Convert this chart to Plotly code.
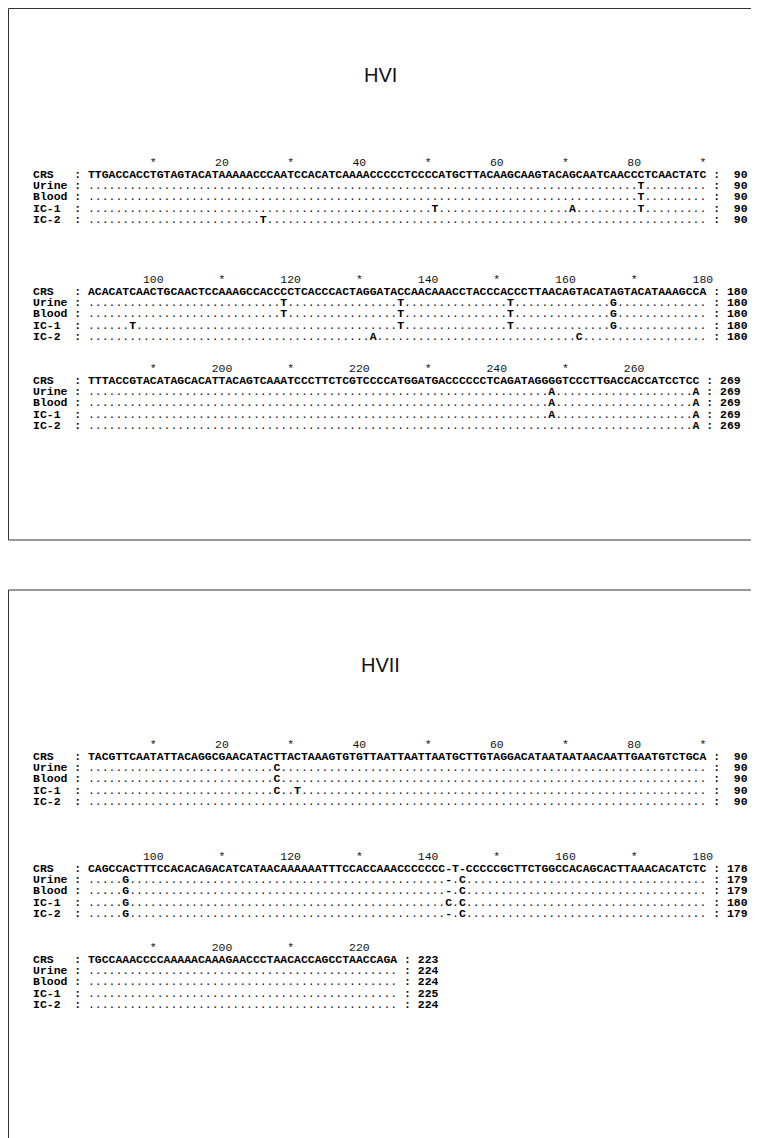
import plotly.graph_objects as go

# ---------------- data ----------------
SAMPLES = ["CRS", "Urine", "Blood", "IC-1", "IC-2"]

HVI_CRS_ROWS = [
    ("TTGACCACCT" "GTAGTACATA" "AAAACCCAAT" "CCACATCAAA" "ACCCCCTCCC"
     "CATGCTTACA" "AGCAAGTACA" "GCAATCAACC" "CTCAACTATC"),
    ("ACACATCAAC" "TGCAACTCCA" "AAGCCACCCC" "TCACCCACTA" "GGATACCAAC"
     "AAACCTACCC" "ACCCTTAACA" "GTACATAGTA" "CATAAAGCCA"),
    ("TTTACCGTAC" "ATAGCACATT" "ACAGTCAAAT" "CCCTTCTCGT" "CCCCATGGAT"
     "GACCCCCCTC" "AGATAGGGGT" "CCCTTGACCA" "CCATCCTCC"),
]
# differences from CRS, keyed by alignment column
HVI_URINE = {81: "T", 119: "T", 136: "T", 152: "T", 167: "G", 248: "A", 269: "A"}
HVI_BLOOD = {81: "T", 119: "T", 136: "T", 152: "T", 167: "G", 248: "A", 269: "A"}
HVI_IC1 = {51: "T", 71: "A", 81: "T", 97: "T", 136: "T", 152: "T", 167: "G", 248: "A", 269: "A"}
HVI_IC2 = {26: "T", 132: "A", 162: "C", 269: "A"}
HVI_ENDS = {"CRS": [90, 180, 269], "Urine": [90, 180, 269], "Blood": [90, 180, 269],
            "IC-1": [90, 180, 269], "IC-2": [90, 180, 269]}

HVII_CRS_ROWS = [
    ("TACGTTCAAT" "ATTACAGGCG" "AACATACTTA" "CTAAAGTGTG" "TTAATTAATT"
     "AATGCTTGTA" "GGACATAATA" "ATAACAATTG" "AATGTCTGCA"),
    ("CAGCCACTTT" "CCACACAGAC" "ATCATAACAA" "AAAATTTCCA" "CCAAACCCCC"
     "CC-T-CCCCC" "GCTTCTGGCC" "ACAGCACTTA" "AACACATCTC"),
    ("TGCCAAACCC" "CAAAAACAAA" "GAACCCTAAC" "ACCAGCCTAA" "CCAGA"),
]
HVII_URINE = {28: "C", 96: "G", 145: "C"}
HVII_BLOOD = {28: "C", 96: "G", 145: "C"}
HVII_IC1 = {28: "C", 31: "T", 96: "G", 143: "C", 145: "C"}
HVII_IC2 = {96: "G", 145: "C"}
HVII_ENDS = {"CRS": [90, 178, 223], "Urine": [90, 179, 224], "Blood": [90, 179, 224],
             "IC-1": [90, 180, 225], "IC-2": [90, 179, 224]}

TITLES = ["HVI", "HVII"]

# ---------------- layout parameters (figure pixels) ----------------
W, H = 759, 1138
PX0 = 80.0      # left edge of alignment column 1 (px)
CW = 6.87       # monospace character width (px)
FS = CW / 0.6   # font size giving that advance
MONO = "Liberation Mono, Courier New, monospace"
ROW0 = 12.0
ROWSTEP = 11.3
HVI_RULER_Y = [155, 272, 361]
HVII_RULER_Y = [737, 849, 940]
TITLE_Y = [67, 657]


def build(crs_rows, variants, ends, ruler_ys, bold, light):
    offset = 0
    for b, row in enumerate(crs_rows):
        L = len(row)
        y0 = ruler_ys[b]
        for c in range(1, L + 1):
            a = offset + c
            if a % 10 == 0:
                lab = "*" if (a // 10) % 2 else str(a)
                light["x"].append(c); light["y"].append(y0); light["t"].append(lab)
        for r, name in enumerate(SAMPLES):
            y = y0 + ROW0 + r * ROWSTEP
            lab = name.ljust(6) + ":"
            for k, ch in enumerate(lab):
                if ch != " ":
                    bold["x"].append(k - 7); bold["y"].append(y); bold["t"].append(ch)
            for c in range(1, L + 1):
                ch = row[c - 1]
                a = offset + c
                if name == "CRS":
                    out = ch
                elif a in variants[name]:
                    out = variants[name][a]
                elif ch == "-":
                    out = "-"
                else:
                    out = "."
                tgt = light if out == "." else bold
                tgt["x"].append(c); tgt["y"].append(y); tgt["t"].append(out)
            tail = " : " + str(ends[name][b]).rjust(3)
            for k, ch in enumerate(tail):
                if ch != " ":
                    bold["x"].append(L + 1 + k); bold["y"].append(y); bold["t"].append(ch)
        offset += L


bold = {"x": [], "y": [], "t": []}
light = {"x": [], "y": [], "t": []}
build(HVI_CRS_ROWS, {"Urine": HVI_URINE, "Blood": HVI_BLOOD, "IC-1": HVI_IC1, "IC-2": HVI_IC2},
      HVI_ENDS, HVI_RULER_Y, bold, light)
build(HVII_CRS_ROWS, {"Urine": HVII_URINE, "Blood": HVII_BLOOD, "IC-1": HVII_IC1, "IC-2": HVII_IC2},
      HVII_ENDS, HVII_RULER_Y, bold, light)

fig = go.Figure()
fig.add_trace(go.Scatter(
    x=light["x"], y=light["y"], text=light["t"], mode="text",
    textposition="middle center",
    textfont=dict(family=MONO, size=FS, color="#111"),
    hoverinfo="skip", showlegend=False, cliponaxis=False))
fig.add_trace(go.Scatter(
    x=bold["x"], y=bold["y"], text=bold["t"], mode="text",
    textposition="middle center",
    textfont=dict(family=MONO, size=FS, color="#000", weight="bold"),
    hoverinfo="skip", showlegend=False, cliponaxis=False))

for title, ty in zip(TITLES, TITLE_Y):
    fig.add_annotation(x=372 / W, xref="paper", y=ty, yref="y", text=title, showarrow=False,
                       font=dict(family="Liberation Sans Narrow, Arial Narrow, Liberation Sans, Arial",
                                 size=20, color="#111"),
                       xanchor="center", yanchor="middle")

line = dict(color="#333", width=1)
frames = [
    (0.5, 0.5, W, 0.5), (0.5, 0.5, 0.5, 532), (0.5, 532, W, 532),
    (0.5, 582, W, 582), (0.5, 582, 0.5, H),
]
for x0, y0, x1, y1 in frames:
    fig.add_shape(type="line", xref="paper", yref="y",
                  x0=x0 / W, x1=x1 / W, y0=y0, y1=y1, line=line)

xmin = 0.5 - PX0 / CW
xmax = 0.5 + (W - PX0) / CW
fig.update_layout(
    width=W, height=H, margin=dict(l=0, r=0, t=0, b=0),
    paper_bgcolor="white", plot_bgcolor="white",
    xaxis=dict(range=[xmin, xmax], visible=False, fixedrange=True),
    yaxis=dict(range=[H, 0], visible=False, fixedrange=True),
)
fig.write_html("out.html")
